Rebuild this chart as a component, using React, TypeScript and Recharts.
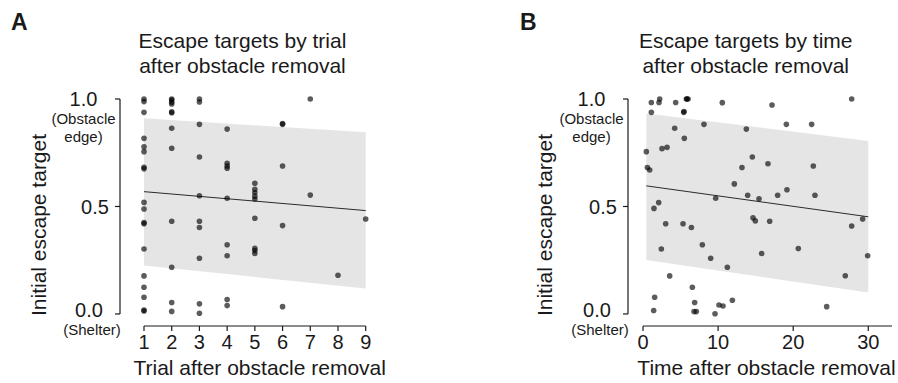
import { Area, ComposedChart, Line, ReferenceLine, Scatter, XAxis, YAxis } from 'recharts'

const FONT = '"Liberation Sans", Arial, sans-serif'
const INK = '#1a1a1a'

// panel A: escape target per trial number
const trialX = [
  1, 1, 1, 1, 1, 1, 1, 1, 1, 1, 1, 1, 1, 1, 1, 1, 1, 1,
  2, 2, 2, 2, 2, 2, 2, 2, 2, 2, 2, 2,
  3, 3, 3, 3, 3, 3, 3, 3, 3, 3,
  4, 4, 4, 4, 4, 4, 4, 4, 4,
  5, 5, 5, 5, 5, 5, 5, 5, 5,
  6, 6, 6, 6, 6,
  7, 7,
  8,
  9,
]
const trialY = [
  1.0, 0.988, 0.938, 0.817, 0.778, 0.755, 0.682, 0.675, 0.519, 0.488, 0.425, 0.42, 0.302, 0.177, 0.124, 0.078, 0.018, 0.014,
  1.0, 0.995, 0.985, 0.977, 0.94, 0.936, 0.864, 0.771, 0.431, 0.217, 0.053, 0.012,
  1.0, 0.986, 0.882, 0.73, 0.55, 0.431, 0.402, 0.259, 0.047, 0.003,
  0.86, 0.701, 0.688, 0.678, 0.538, 0.322, 0.271, 0.067, 0.039,
  0.608, 0.58, 0.565, 0.548, 0.535, 0.445, 0.305, 0.295, 0.281,
  0.886, 0.882, 0.688, 0.411, 0.034,
  1.0, 0.553,
  0.18,
  0.442,
]
const trialFitX = [1, 9]
const trialFitMean = [0.569, 0.481]
const trialFitLow = [0.225, 0.119]
const trialFitHigh = [0.91, 0.845]
const trialTicks = [1, 2, 3, 4, 5, 6, 7, 8, 9]

// panel B: escape target per minutes since removal
const timeX = [
  0.44, 0.58, 0.89, 1.11, 1.11, 1.46, 1.55, 1.42, 2.09, 2.22,
  2.13, 2.44, 2.53, 3.2, 3.02, 3.55, 4.22, 4.35, 5.33, 5.42,
  5.46, 5.5, 5.77, 5.85, 6.0, 6.44, 6.57, 6.88, 6.79, 7.1,
  7.9, 8.12, 9.01, 9.68, 9.59, 10.12, 10.65, 10.56, 11.23, 11.9,
  12.16, 13.18, 13.76, 13.94, 14.56, 14.65, 14.96, 15.45, 15.8, 16.64,
  16.87, 17.18, 17.93, 19.09, 19.17, 20.68, 22.46, 22.68, 22.9, 24.46,
  26.94, 27.79, 27.79, 29.25, 29.92,
]
const timeY = [
  0.755, 0.681, 0.67, 0.984, 0.938, 0.491, 0.078, 0.016, 0.518, 1.0,
  0.984, 0.302, 0.769, 0.775, 0.42, 0.177, 0.864, 0.984, 0.42, 0.938,
  0.942, 0.817, 1.0, 1.0, 1.0, 0.402, 0.124, 0.053, 0.011, 0.011,
  0.322, 0.882, 0.259, 0.538, 0.001, 0.042, 0.037, 0.983, 0.217, 0.064,
  0.605, 0.681, 0.86, 0.552, 0.73, 0.447, 0.433, 0.536, 0.281, 0.699,
  0.431, 0.972, 0.552, 0.882, 0.578, 0.304, 0.882, 0.688, 0.552, 0.034,
  0.178, 1.0, 0.409, 0.442, 0.271,
]
const timeFitX = [0.44, 30]
const timeFitMean = [0.596, 0.452]
const timeFitLow = [0.251, 0.1]
const timeFitHigh = [0.932, 0.805]
const timeTicks = [0, 10, 20, 30]

const yTicks = [0, 0.5, 1]
const yTickLabels: Record<number, string[]> = {
  0: ['0.0', '(Shelter)'],
  0.5: ['0.5'],
  1: ['1.0', '(Obstacle', 'edge)'],
}

function TargetTick(props: any) {
  const { x, y, payload } = props
  const ax = x + 7 // axis line position
  const lines = yTickLabels[payload.value] || []
  if (payload.value === 1) {
    return (
      <g fontFamily={FONT} fill={INK} textAnchor="middle">
        <text x={ax - 36.5} y={y + 7} fontSize={20}>{lines[0]}</text>
        <text x={ax - 36.5} y={y + 25} fontSize={15}>{lines[1]}</text>
        <text x={ax - 36.5} y={y + 42.5} fontSize={15}>{lines[2]}</text>
      </g>
    )
  }
  if (payload.value === 0) {
    return (
      <g fontFamily={FONT} fill={INK} textAnchor="middle">
        <text x={ax - 31} y={y + 3} fontSize={20}>{lines[0]}</text>
        <text x={ax - 28} y={y + 21} fontSize={15}>{lines[1]}</text>
      </g>
    )
  }
  return (
    <text x={ax - 25} y={y + 7.5} fontSize={20} fontFamily={FONT} fill={INK} textAnchor="middle">
      {lines[0]}
    </text>
  )
}

const dot = (p: any) => <circle cx={p.cx} cy={p.cy} r={2.8} fill="#000" fillOpacity={0.64} />

type PanelProps = {
  xs: number[]
  ys: number[]
  fitX: number[]
  fitMean: number[]
  fitLow: number[]
  fitHigh: number[]
  ticks: number[]
  xDomain: [number, number]
  margin: { top: number; right: number; bottom: number; left: number }
}

const Y_MIN = -0.056

function Panel({ xs, ys, fitX, fitMean, fitLow, fitHigh, ticks, xDomain, margin }: PanelProps) {
  const points = xs.map((x, i) => ({ x, y: ys[i] }))
  const fit = fitX.map((x, i) => ({ x, mean: fitMean[i], band: [fitLow[i], fitHigh[i]] }))
  const first = ticks[0]
  const last = ticks[ticks.length - 1]
  return (
    <ComposedChart width={449} height={383} margin={margin}>
      <XAxis
        type="number"
        dataKey="x"
        domain={xDomain}
        ticks={ticks}
        height={30}
        axisLine={false}
        tickLine={{ stroke: INK, strokeWidth: 1.2 }}
        tickSize={5}
        tickMargin={4}
        tick={{ fontSize: 20, fill: INK, fontFamily: FONT }}
        interval={0}
      />
      <YAxis
        type="number"
        domain={[Y_MIN, 1]}
        ticks={yTicks}
        width={60}
        axisLine={false}
        tickLine={{ stroke: INK, strokeWidth: 1.2 }}
        tickSize={5}
        tickMargin={2}
        tick={<TargetTick />}
        interval={0}
      />
      <Area
        data={fit}
        dataKey="band"
        type="linear"
        stroke="none"
        fill="#e5e5e5"
        fillOpacity={1}
        isAnimationActive={false}
      />
      <Line
        data={fit}
        dataKey="mean"
        type="linear"
        stroke="#2a2a2a"
        strokeWidth={1}
        dot={false}
        isAnimationActive={false}
      />
      <Scatter data={points} dataKey="y" shape={dot} isAnimationActive={false} />
      <ReferenceLine
        segment={[{ x: first, y: Y_MIN }, { x: last === 30 ? xDomain[1] : last, y: Y_MIN }]}
        stroke={INK}
        strokeWidth={1.2}
        ifOverflow="visible"
      />
      <ReferenceLine
        segment={[{ x: xDomain[0], y: 0 }, { x: xDomain[0], y: 1 }]}
        stroke={INK}
        strokeWidth={1.2}
        ifOverflow="visible"
      />
    </ComposedChart>
  )
}

export default function App() {
  return (
    <div style={{ position: 'absolute', left: 0, top: 0, width: 898, height: 383, background: '#fff' }}>
      <div style={{ position: 'absolute', left: 0, top: 0 }}>
        <Panel
          xs={trialX}
          ys={trialY}
          fitX={trialFitX}
          fitMean={trialFitMean}
          fitLow={trialFitLow}
          fitHigh={trialFitHigh}
          ticks={trialTicks}
          xDomain={[0.134, 9]}
          margin={{ top: 99, right: 83.3, bottom: 27, left: 60 }}
        />
      </div>
      <div style={{ position: 'absolute', left: 449, top: 0 }}>
        <Panel
          xs={timeX}
          ys={timeY}
          fitX={timeFitX}
          fitMean={timeFitMean}
          fitLow={timeFitLow}
          fitHigh={timeFitHigh}
          ticks={timeTicks}
          xDomain={[-2.0, 33.16]}
          margin={{ top: 99, right: 6, bottom: 27, left: 119 }}
        />
      </div>
      <svg
        width={898}
        height={383}
        style={{ position: 'absolute', left: 0, top: 0, pointerEvents: 'none' }}
        fontFamily={FONT}
        fill={INK}
      >
        <text x={11} y={29.5} fontSize={23} fontWeight="bold">A</text>
        <text x={520} y={29.5} fontSize={23} fontWeight="bold">B</text>
        <text x={242.5} y={47.5} fontSize={21} textAnchor="middle">Escape targets by trial</text>
        <text x={242.5} y={72.5} fontSize={21} textAnchor="middle">after obstacle removal</text>
        <text x={745.7} y={47.5} fontSize={21} textAnchor="middle">Escape targets by time</text>
        <text x={745.7} y={72.5} fontSize={21} textAnchor="middle">after obstacle removal</text>
        <text x={46} y={225} fontSize={21} textAnchor="middle" transform="rotate(-90 46 225)">
          Initial escape target
        </text>
        <text x={552} y={225} fontSize={21} textAnchor="middle" transform="rotate(-90 552 225)">
          Initial escape target
        </text>
        <text x={259.7} y={375} fontSize={21} textAnchor="middle">Trial after obstacle removal</text>
        <text x={766.5} y={375} fontSize={21} textAnchor="middle">Time after obstacle removal</text>
      </svg>
    </div>
  )
}
